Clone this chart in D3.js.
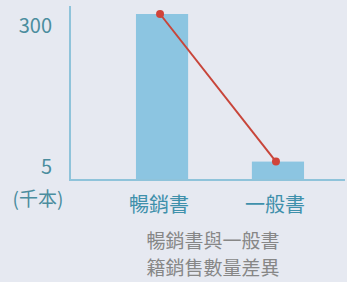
<!DOCTYPE html>
<html>
<head>
<meta charset="utf-8">
<script src="https://cdn.jsdelivr.net/npm/d3@7"></script>
<style>
  html, body { margin: 0; padding: 0; background: #e6e9f1; }
  svg { display: block; font-family: "Noto Sans CJK TC", "Noto Sans", sans-serif; }
</style>
</head>
<body>
<div id="chart"></div>
<script>
// Data
const categories = ["暢銷書", "一般書"];
const sales = [300, 5];           // thousand copies
const tickValues = [300, 5];
const unitLabel = "(千本)";
const titleLines = ["暢銷書與一般書", "籍銷售數量差異"];

const W = 347, H = 282;
const baseY = 180, axisX = 70;

const svg = d3.select("#chart")
  .append("svg")
  .attr("width", W)
  .attr("height", H);

svg.append("rect")
  .attr("width", W)
  .attr("height", H)
  .attr("fill", "#e6e9f1");

// Scales
const x = d3.scaleBand()
  .domain(categories)
  .range([78, 362])
  .paddingInner(0.55)
  .paddingOuter(0.5);

// log scale so the small value is still visible
const y = d3.scaleLog()
  .domain([3, 300])
  .range([baseY, 14]);

// Bars
svg.selectAll(".bar")
  .data(categories)
  .enter().append("rect")
  .attr("class", "bar")
  .attr("x", d => x(d))
  .attr("y", (d, i) => y(sales[i]))
  .attr("width", x.bandwidth())
  .attr("height", (d, i) => baseY - y(sales[i]))
  .attr("fill", "#8cc5e1");

// Axes lines
svg.append("line")
  .attr("x1", axisX).attr("x2", axisX)
  .attr("y1", 6).attr("y2", baseY)
  .attr("stroke", "#8fc3da")
  .attr("stroke-width", 2);
svg.append("line")
  .attr("x1", axisX - 1).attr("x2", 345)
  .attr("y1", baseY).attr("y2", baseY)
  .attr("stroke", "#8fc3da")
  .attr("stroke-width", 2);

// Y tick labels
svg.selectAll(".ytick")
  .data(tickValues)
  .enter().append("text")
  .attr("class", "ytick")
  .attr("x", 52)
  .attr("y", d => y(d) + (d === 300 ? 19 : 12))
  .attr("text-anchor", "end")
  .attr("font-size", 20)
  .attr("fill", "#4b8d9e")
  .text(d => d);

svg.append("text")
  .attr("x", 38)
  .attr("y", 206)
  .attr("text-anchor", "middle")
  .attr("font-size", 19)
  .attr("fill", "#4b8d9e")
  .text(unitLabel);

// Category labels
svg.selectAll(".cat")
  .data(categories)
  .enter().append("text")
  .attr("class", "cat")
  .attr("x", d => x(d) + x.bandwidth() / 2 - 3)
  .attr("y", 212)
  .attr("text-anchor", "middle")
  .attr("font-size", 20)
  .attr("fill", "#3f90ab")
  .text(d => d);

// Red connecting line with dots
const line = d3.line()
  .x(d => x(d) + x.bandwidth() / 2 - 2)
  .y((d, i) => y(sales[i]));

svg.append("path")
  .datum(categories)
  .attr("d", line)
  .attr("fill", "none")
  .attr("stroke", "#c8453a")
  .attr("stroke-width", 2);

svg.selectAll(".dot")
  .data(categories)
  .enter().append("circle")
  .attr("class", "dot")
  .attr("cx", d => x(d) + x.bandwidth() / 2 - 2)
  .attr("cy", (d, i) => y(sales[i]))
  .attr("r", 4)
  .attr("fill", "#d0443a");

// Title below the chart
svg.selectAll(".title")
  .data(titleLines)
  .enter().append("text")
  .attr("class", "title")
  .attr("x", 213)
  .attr("y", (d, i) => 247.5 + i * 27.6)
  .attr("text-anchor", "middle")
  .attr("font-size", 19)
  .attr("fill", "#878787")
  .text(d => d);
</script>
</body>
</html>
